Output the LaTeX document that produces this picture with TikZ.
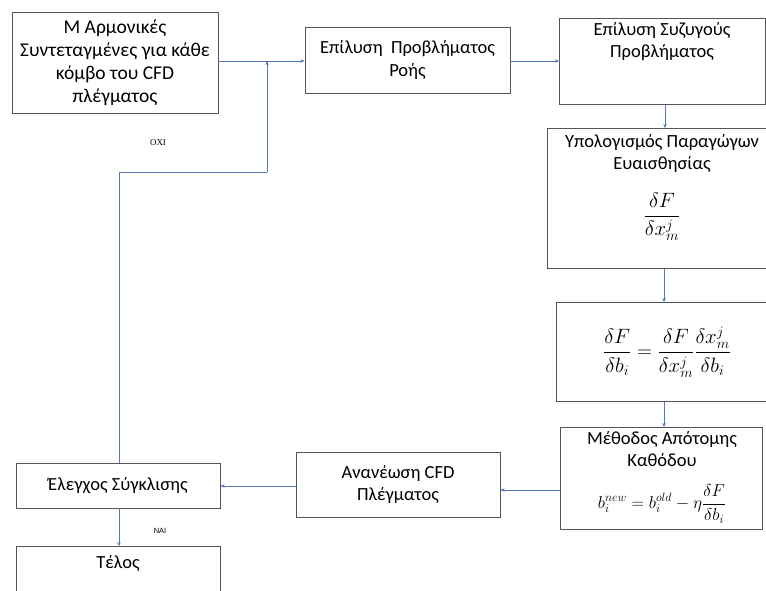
\documentclass[tikz,border=0pt]{standalone}
\usepackage{fontspec}
\setmainfont{Carlito}
\newfontfamily\labserif{Liberation Serif}
\newfontfamily\labsans{Liberation Sans}
\usetikzlibrary{arrows.meta}
\definecolor{boxline}{HTML}{555555}
\definecolor{conn}{HTML}{5577B8}
\tikzset{
  x=1pt,y=-1pt,
  box/.style={draw=boxline,line width=0.9pt,fill=white,rectangle,inner sep=0pt,align=center,
    font=\fontsize{18.5}{22.5}\selectfont},
  plain/.style={draw=none,fill=none,inner sep=0pt,align=center,font=\fontsize{18.5}{22.5}\selectfont},
  conline/.style={draw=conn,line width=0.9pt},
  arr/.style={conline,-{Stealth[length=4pt,width=3.5pt]}},
  small/.style={inner sep=0pt}
}
\begin{document}
\begin{tikzpicture}
\useasboundingbox (0,0) rectangle (766,590);
\fill[white] (0,0) rectangle (766,590);
% boxes
\node[box,minimum width=206pt,minimum height=101pt,font=\fontsize{19.5}{23}\selectfont] (b1) at (115,62.5)
  {M Αρμονικές\\Συντεταγμένες για κάθε\\κόμβο του CFD\\πλέγματος};
\node[box,minimum width=205pt,minimum height=66pt] (b2) at (407.5,60)
  {Επίλυση\ \ Προβλήματος\\Ροής};
\node[box,minimum width=206pt,minimum height=86pt,anchor=north west] (b3) at (559,18) {};
\node[plain,anchor=north] (b3t) at (662,22) {Επίλυση Συζυγούς\\Προβλήματος};
\node[box,minimum width=230pt,minimum height=140pt,anchor=north west] (b4) at (547,128) {};
\node[plain,anchor=north] (b4t) at (662,134)
  {Υπολογισμός Παραγώγων\\Ευαισθησίας};
\node[plain,font=\fontsize{21}{24}\selectfont] (b4m) at (662,217)
  {$\displaystyle\frac{\delta F}{\delta x_m^j}$};
\node[box,minimum width=222pt,minimum height=99pt,anchor=north west] (b5) at (556,302) {};
\node[plain,font=\fontsize{21}{24}\selectfont] (b5m) at (667,352)
  {$\displaystyle\frac{\delta F}{\delta b_i}=\frac{\delta F}{\delta x_m^j}\frac{\delta x_m^j}{\delta b_i}$};
\node[box,minimum width=202pt,minimum height=102pt,anchor=north west] (b6) at (560,427) {};
\node[plain,anchor=north] (b6t) at (662,431)
  {Μέθοδος Απότομης\\Καθόδου};
\node[plain,font=\fontsize{17}{20}\selectfont] (b6m) at (662,504)
  {$\displaystyle b_i^{new}=b_i^{old}-\eta\frac{\delta F}{\delta b_i}$};
\node[box,minimum width=204pt,minimum height=65pt] (b7) at (398,484.5)
  {Ανανέωση CFD\\Πλέγματος};
\node[box,minimum width=204pt,minimum height=45pt] (b8) at (118,485.5)
  {Έλεγχος Σύγκλισης};
\node[box,minimum width=204pt,minimum height=46pt,anchor=north] (b9) at (118,546) {};
\node[plain] (b9t) at (118,563) {Τέλος};
% labels
\node[small,font=\labserif\fontsize{9}{10}\selectfont] (oxi) at (158,143) {ΟΧΙ};
\node[small,font=\labsans\fontsize{7.5}{9}\selectfont] (nai) at (160,531) {ΝΑΙ};
% connectors
\coordinate (j) at (267,61);
\coordinate (c1) at (119,172);
\draw[arr] (b1.east |- 0,61) -- (b2.west |- 0,61);
\draw[arr] (b2.east |- 0,61) -- (b3.west |- 0,61);
\draw[arr] (b3.south -| 665,0) -- (b4.north -| 665,0);
\draw[arr] (b4.south -| 664,0) -- (b5.north -| 664,0);
\draw[arr] (b5.south -| 664,0) -- (b6.north -| 664,0);
\draw[arr] (b6.west |- 0,490) -- (b7.east |- 0,490);
\draw[arr] (b7.west |- 0,486) -- (b8.east |- 0,486);
\draw[arr] (b8.south -| 119,0) -- (b9.north -| 119,0);
\draw[conline] (b8.north -| 119,0) -- (c1) -- (c1 -| j);
\draw[arr] (c1 -| j) -- (j);
\end{tikzpicture}
\end{document}
